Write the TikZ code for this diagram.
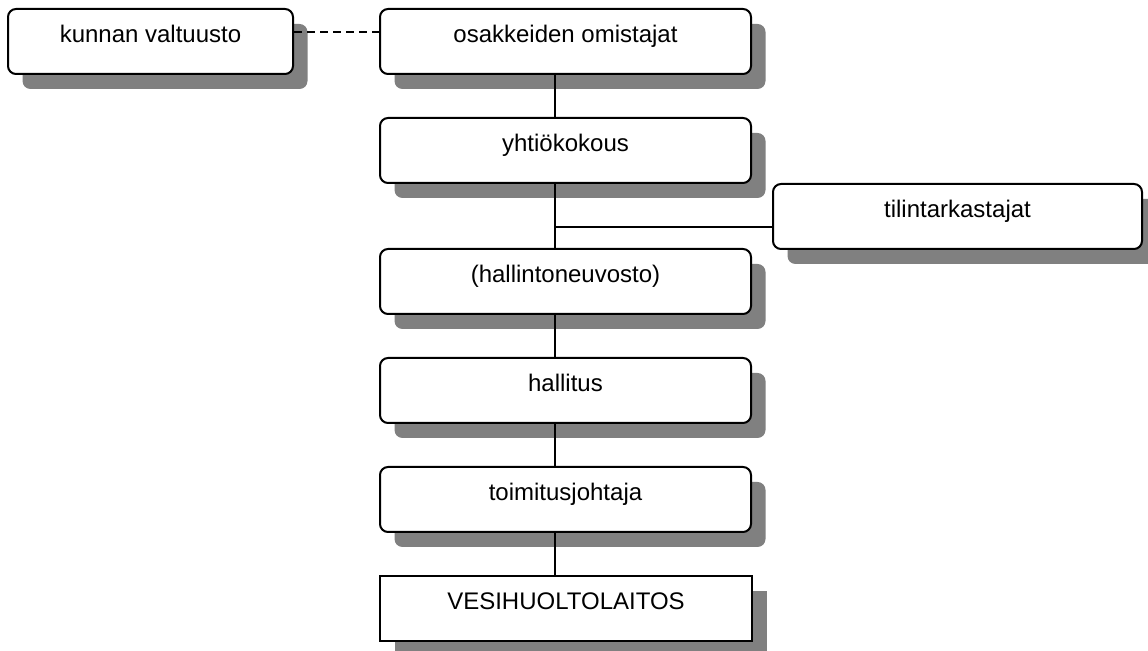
\documentclass[tikz,border=0pt]{standalone}
\usepackage{fontspec}
\setmainfont{Liberation Sans}
\usetikzlibrary{shadows}
\begin{document}
\begin{tikzpicture}[x=0.5pt,y=-0.5pt,
  every node/.style={font=\fontsize{12}{14}\selectfont},
  orgbox/.style={draw=black, line width=1pt, fill=white, rounded corners=4pt,
    minimum width=185.5pt, minimum height=32.5pt, inner sep=0pt,
    text height=7pt, text depth=6pt,
    general shadow={fill=black!50, shadow xshift=7.25pt, shadow yshift=-7.5pt}},
  unitbox/.style={orgbox, sharp corners},
  link/.style={line width=0.8pt}]
  \useasboundingbox (0,0) rectangle (1148,651);

  % organisation boxes
  \node[orgbox, minimum width=142.5pt] (kv) at (150.5,41.5) {kunnan valtuusto};
  \node[orgbox] (os) at (565.5,41.5) {osakkeiden omistajat};
  \node[orgbox] (yh) at (565.5,150.5) {yhtiökokous};
  \node[orgbox, minimum width=184.5pt] (ti) at (957.5,216.5) {tilintarkastajat};
  \node[orgbox] (ha) at (565.5,281.5) {(hallintoneuvosto)};
  \node[orgbox] (hs) at (565.5,390.5) {hallitus};
  \node[orgbox] (tj) at (565.5,499.5) {toimitusjohtaja};
  \node[unitbox, minimum width=186pt] (ve) at (566,608.5) {VESIHUOLTOLAITOS};

  % helper points for the spine and side branches
  \coordinate (spine) at (555,0);
  \coordinate (branch) at (555,227);
  \coordinate (dashrow) at (0,32);

  % connectors
  \draw[link, dash pattern=on 4pt off 2.5pt] (kv.east |- dashrow) -- (os.west |- dashrow);
  \draw[link] (os.south -| spine) -- (yh.north -| spine);
  \draw[link] (yh.south -| spine) -- (ha.north -| spine);
  \draw[link] (branch) -- (branch -| ti.west);
  \draw[link] (ha.south -| spine) -- (hs.north -| spine);
  \draw[link] (hs.south -| spine) -- (tj.north -| spine);
  \draw[link] (tj.south -| spine) -- (ve.north -| spine);
\end{tikzpicture}
\end{document}
